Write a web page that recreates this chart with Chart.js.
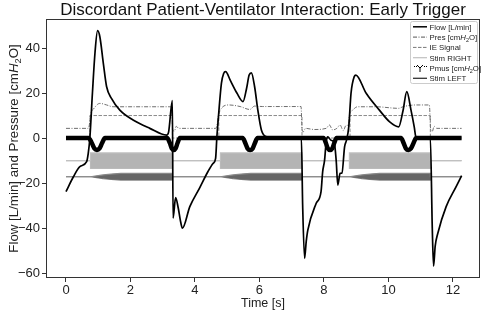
<!DOCTYPE html>
<html>
<head>
<meta charset="utf-8">
<script src="https://cdn.jsdelivr.net/npm/chart.js@4.4.1/dist/chart.umd.min.js"></script>
<style>
  html, body { margin: 0; padding: 0; background: #fff; }
  canvas { display: block; }
</style>
</head>
<body>
<canvas id="myChart" width="484" height="313"></canvas>
<script>
"use strict";

// Values: time in s, flow in L/min, pressures in cmH2O
const flowTime = [0, 0.23, 0.43, 0.64, 0.69, 0.74, 0.82, 0.90, 0.98, 1.05, 1.16, 1.26, 1.41, 1.67, 2.08, 2.60, 3.12, 3.18, 3.30, 3.32,
	3.40, 3.48, 3.54, 3.61, 3.84, 4.15, 4.40, 4.56, 4.64, 4.68, 4.72, 4.82, 4.89, 4.95, 5.10, 5.30, 5.49, 5.60, 5.68, 5.75,
	5.85, 5.95, 6.06, 6.21, 6.50, 7.30, 7.34, 7.40, 7.45, 7.50, 7.76, 7.91, 7.96, 8.02, 8.07, 8.12, 8.22, 8.32, 8.38, 8.43,
	8.50, 8.56, 8.64, 8.70, 8.77, 8.84, 8.94, 8.99, 9.31, 9.72, 10.03, 10.32, 10.45, 10.57, 10.70, 10.80, 10.86, 11.00, 11.30, 11.36,
	11.40, 11.45, 11.53, 11.79, 12.10, 12.27];
const flowValues = [-23.8, -17.2, -12.7, -10.5, -6.8, 0, 20, 38, 47.7, 45, 33, 22.8, 17.6, 12.4, 8, 4.3, 1.3, 2.5, 16.6, -35.6,
	-26.5, -31, -36, -40.1, -30.5, -22, -15, -11.3, -9, 0.6, 8, 24.3, 28.7, 29.5, 25.5, 20, 16.2, 22, 28, 29,
	22.8, 12.4, 3.6, 0.6, 0.1, 0, -30, -53.5, -46, -40.9, -29, -23.8, -15, -9.8, -1.6, 0.5, -1, -2, -10, -20.9,
	-15.7, -15.5, -3.9, -0.9, 5, 19.9, 27.3, 28, 19.9, 12.4, 7.3, 5, 12, 20.6, 12.4, 5, 0, 0, 0, -40,
	-56.9, -48, -42.4, -30.5, -21.6, -16.7];

const presTime = [0, 0.68, 0.72, 0.76, 0.87, 1.05, 1.26, 1.46, 3.22, 3.27, 3.31, 3.36, 3.42, 3.50, 4.64, 4.68, 4.72, 4.82, 5.05, 5.40,
	5.70, 5.85, 6.10, 7.29, 7.32, 7.36, 7.43, 7.70, 8.07, 8.17, 8.27, 8.40, 8.50, 8.60, 8.68, 8.76, 8.79, 8.89, 9.04, 9.60,
	10.32, 10.45, 10.86, 11.27, 11.31, 11.36, 11.42, 11.50, 12.27];
const presValues = [4.3, 4.3, 5.5, 10.2, 13.2, 15.4, 14.7, 13.9, 13.9, 13.6, 3.8, 3.0, 5.2, 4.3, 4.3, 5.5, 9.5, 13.2, 14.7, 14.0,
	12.7, 14.2, 14.0, 14.0, 4.0, 2.8, 4.3, 3.8, 4.3, 5.8, 3.6, 4.3, 5.8, 3.3, 5.5, 6.0, 10.2, 12.4, 13.9, 13.9,
	13.2, 13.9, 14.7, 14.7, 3.8, 3.0, 5.2, 4.3, 4.3];

const ieTime = [0, 0.74, 0.74, 3.30, 3.30, 4.74, 4.74, 7.32, 7.32, 8.81, 8.81, 11.30, 11.30, 12.27];
const ieValues = [0, 0, 10, 10, 0, 0, 10, 10, 0, 0, 10, 10, 0, 0];

const pmusTime = [0, 0.70, 0.80, 0.88, 0.96, 1.04, 1.12, 1.21, 3.14, 3.22, 3.28, 3.34, 3.40, 3.46, 3.53,
	5.48, 5.56, 5.63, 5.71, 5.79, 5.86, 5.94, 7.99, 8.06, 8.12, 8.19, 8.26, 8.32, 8.39,
	10.39, 10.47, 10.54, 10.62, 10.70, 10.78, 10.86, 12.27];
const pmusValues = [0, 0, -2.2, -4.6, -5.3, -4.6, -2.2, 0, 0, -2.2, -4.6, -5.3, -4.6, -2.2, 0,
	0, -2.2, -4.6, -5.3, -4.6, -2.2, 0, 0, -2.2, -4.6, -5.3, -4.6, -2.2, 0,
	0, -2.2, -4.6, -5.3, -4.6, -2.2, 0, 0];

// Stim RIGHT: trace at -10 and the envelope of the stimulation bursts
const stimRightTime = [0, 0.76, 0.76, 3.30, 3.30, 4.79, 4.79, 7.32, 7.32, 8.79, 8.79, 11.30, 11.30, 12.27];
const stimRightUpper = [-10, -10, -6.6, -6.6, -10, -10, -6.6, -6.6, -10, -10, -6.6, -6.6, -10, -10];
const stimRightLower = [-10, -10, -13.5, -13.5, -10, -10, -13.5, -13.5, -10, -10, -13.5, -13.5, -10, -10];

// Stim LEFT: trace at -17.2, bursts ramp up in amplitude
const stimLeftTime = [0, 0.76, 0.95, 1.15, 1.40, 1.70, 3.30, 3.30, 4.79, 4.98, 5.18, 5.43, 5.73, 7.32, 7.32,
	8.79, 8.98, 9.18, 9.43, 9.73, 11.30, 11.30, 12.27];
const stimLeftUpper = [-17.2, -17.2, -16.8, -16.4, -16.0, -15.7, -15.7, -17.2, -17.2, -16.8, -16.4, -16.0, -15.7, -15.7, -17.2,
	-17.2, -16.8, -16.4, -16.0, -15.7, -15.7, -17.2, -17.2];
const stimLeftLower = [-17.2, -17.2, -17.6, -18.0, -18.4, -18.7, -18.7, -17.2, -17.2, -17.6, -18.0, -18.4, -18.7, -18.7, -17.2,
	-17.2, -17.6, -18.0, -18.4, -18.7, -18.7, -17.2, -17.2];

const seriesLabels = ["Flow [L/min]", "Pres [cmH2O]", "IE Signal", "Stim RIGHT", "Pmus [cmH2O]", "Stim LEFT"];
const xTicks = [0, 2, 4, 6, 8, 10, 12];
const yTicks = [-60, -40, -20, 0, 20, 40];

const chartTitle = "Discordant Patient-Ventilator Interaction: Early Trigger";
const xTitle = "Time [s]";
const yTitle = "Flow [L/min] and Pressure [cmH2O]";

const FONT = "'Liberation Sans', Arial, Helvetica, sans-serif";
Chart.defaults.font.family = FONT;
Chart.defaults.color = "#222";

function toPoints(times, values) {
	return times.map(function (t, i) {
		return { x: t, y: values[i] };
	});
}

// Draws a label, rendering "H2O" as italic H with a subscript 2
function drawRich(ctx, label, x, y, size, align) {
	const base = size + "px " + FONT;
	const i = label.indexOf("H2O");
	let parts = [{ t: label, font: base, dy: 0 }];
	if (i >= 0) {
		parts = [
			{ t: label.slice(0, i), font: base, dy: 0 },
			{ t: "H", font: "italic " + base, dy: 0 },
			{ t: "2", font: (size * 0.7) + "px " + FONT, dy: size * 0.25 },
			{ t: label.slice(i + 2), font: base, dy: 0 },
		];
	}
	let width = 0;
	parts.forEach(function (p) {
		ctx.font = p.font;
		p.w = ctx.measureText(p.t).width;
		width += p.w;
	});
	let cx = align === "center" ? x - width / 2 : x;
	ctx.textAlign = "left";
	ctx.textBaseline = "alphabetic";
	parts.forEach(function (p) {
		ctx.font = p.font;
		ctx.fillText(p.t, cx, y + p.dy);
		cx += p.w;
	});
}

function legendIcon(ctx, i, x0, x1, y) {
	ctx.save();
	ctx.beginPath();
	if (i === 0) {
		ctx.strokeStyle = "#000"; ctx.lineWidth = 1.5;
	} else if (i === 1) {
		ctx.strokeStyle = "#555"; ctx.lineWidth = 1; ctx.setLineDash([4, 1.5, 1, 1.5]);
	} else if (i === 2) {
		ctx.strokeStyle = "#777"; ctx.lineWidth = 1; ctx.setLineDash([3.5, 1.5]);
	} else if (i === 3) {
		ctx.strokeStyle = "#c0c0c0"; ctx.lineWidth = 1.2;
	} else if (i === 5) {
		ctx.strokeStyle = "#333"; ctx.lineWidth = 1.3;
	}
	if (i === 4) {
		// Y-shaped marker with dotted ends
		const mx = (x0 + x1) / 2;
		ctx.strokeStyle = "#000"; ctx.lineWidth = 1;
		ctx.moveTo(mx, y); ctx.lineTo(mx - 3, y - 3);
		ctx.moveTo(mx, y); ctx.lineTo(mx + 3, y - 3);
		ctx.moveTo(mx, y); ctx.lineTo(mx, y + 4);
		ctx.stroke();
		ctx.fillStyle = "#000";
		[x0 + 1, x0 + 3, x1 - 3, x1 - 1].forEach(function (dx) {
			ctx.fillRect(dx, y - 2, 1, 1);
		});
	} else {
		ctx.moveTo(x0, y); ctx.lineTo(x1, y);
		ctx.stroke();
	}
	ctx.restore();
}

const decorPlugin = {
	id: "decor",
	afterDraw(chart) {
		const ctx = chart.ctx;
		const a = chart.chartArea;
		ctx.save();

		// frame round the plot
		ctx.strokeStyle = "#333";
		ctx.lineWidth = 1;
		ctx.strokeRect(a.left + 0.5, a.top + 0.5, a.right - a.left - 1, a.bottom - a.top - 1);

		// title
		ctx.fillStyle = "#111";
		ctx.font = "17px " + FONT;
		ctx.textAlign = "center";
		ctx.textBaseline = "alphabetic";
		ctx.fillText(chartTitle, (a.left + a.right) / 2, 15);

		// y axis title
		ctx.save();
		ctx.translate(13, (a.top + a.bottom) / 2);
		ctx.rotate(-Math.PI / 2);
		ctx.fillStyle = "#222";
		drawRich(ctx, yTitle, 0, 4.5, 13.3, "center");
		ctx.restore();

		// legend
		const bx = 410.5, by = 21.5, bw = 67, bh = 62;
		ctx.beginPath();
		ctx.roundRect(bx, by, bw, bh, 2);
		ctx.fillStyle = "rgba(255,255,255,0.85)";
		ctx.fill();
		ctx.strokeStyle = "#cccccc";
		ctx.lineWidth = 1;
		ctx.stroke();
		seriesLabels.forEach(function (label, i) {
			const y = 26.8 + i * 10.3;
			legendIcon(ctx, i, 413, 427, y);
			ctx.fillStyle = "#222";
			drawRich(ctx, label, 429.5, y + 2.8, 7.8, "left");
		});
		ctx.restore();
	},
};

const datasets = [
	{ label: seriesLabels[0], data: toPoints(flowTime, flowValues), borderColor: "#000", borderWidth: 1.7, cubicInterpolationMode: "monotone", order: 0 },
	{ label: seriesLabels[4], data: toPoints(pmusTime, pmusValues), borderColor: "#000", borderWidth: 4.5, cubicInterpolationMode: "monotone", order: 1 },
	{ label: seriesLabels[1], data: toPoints(presTime, presValues), borderColor: "#6e6e6e", borderWidth: 1, borderDash: [4, 1.5, 1, 1.5], cubicInterpolationMode: "monotone", order: 2 },
	{ label: seriesLabels[2], data: toPoints(ieTime, ieValues), borderColor: "#8a8a8a", borderWidth: 1, borderDash: [3.5, 1.5], order: 3 },
	{ label: seriesLabels[3], data: toPoints(stimRightTime, stimRightUpper), borderColor: "#c0c0c0", borderWidth: 1.2, backgroundColor: "#b4b4b4", fill: "+1", order: 5 },
	{ label: "Stim RIGHT lower", data: toPoints(stimRightTime, stimRightLower), borderColor: "#c0c0c0", borderWidth: 1.2, fill: false, order: 5 },
	{ label: seriesLabels[5], data: toPoints(stimLeftTime, stimLeftUpper), borderColor: "#888", borderWidth: 1.2, backgroundColor: "#666", fill: "+1", order: 5 },
	{ label: "Stim LEFT lower", data: toPoints(stimLeftTime, stimLeftLower), borderColor: "#888", borderWidth: 1.2, fill: false, order: 5 },
];

function minusSign(v) {
	return String(v).replace("-", "\u2212");
}

new Chart(document.getElementById("myChart"), {
	type: "line",
	data: { datasets: datasets },
	options: {
		responsive: false,
		animation: false,
		devicePixelRatio: 1,
		layout: { padding: { top: 19, right: 4, left: 0, bottom: 0 } },
		elements: { point: { radius: 0 }, line: { tension: 0 } },
		plugins: { legend: { display: false }, tooltip: { enabled: false }, title: { display: false } },
		scales: {
			x: {
				type: "linear",
				min: -0.62,
				max: 12.84,
				afterBuildTicks: function (scale) { scale.ticks = xTicks.map(function (v) { return { value: v }; }); },
				afterFit: function (scale) { scale.height = 35; },
				ticks: { font: { size: 13 }, color: "#222", padding: 1, maxRotation: 0, callback: minusSign },
				grid: { drawOnChartArea: false, drawTicks: true, tickLength: 4, color: "#333" },
				border: { display: false },
				title: { display: true, text: xTitle, font: { size: 12.5 }, color: "#222", padding: { top: 0, bottom: 2 } },
			},
			y: {
				type: "linear",
				min: -62.2,
				max: 52.9,
				afterBuildTicks: function (scale) { scale.ticks = yTicks.map(function (v) { return { value: v }; }); },
				afterFit: function (scale) { scale.width = 46; },
				ticks: { font: { size: 13 }, color: "#222", padding: 2, callback: minusSign },
				grid: { drawOnChartArea: false, drawTicks: true, tickLength: 4, color: "#333" },
				border: { display: false },
			},
		},
	},
	plugins: [decorPlugin],
});
</script>
</body>
</html>
